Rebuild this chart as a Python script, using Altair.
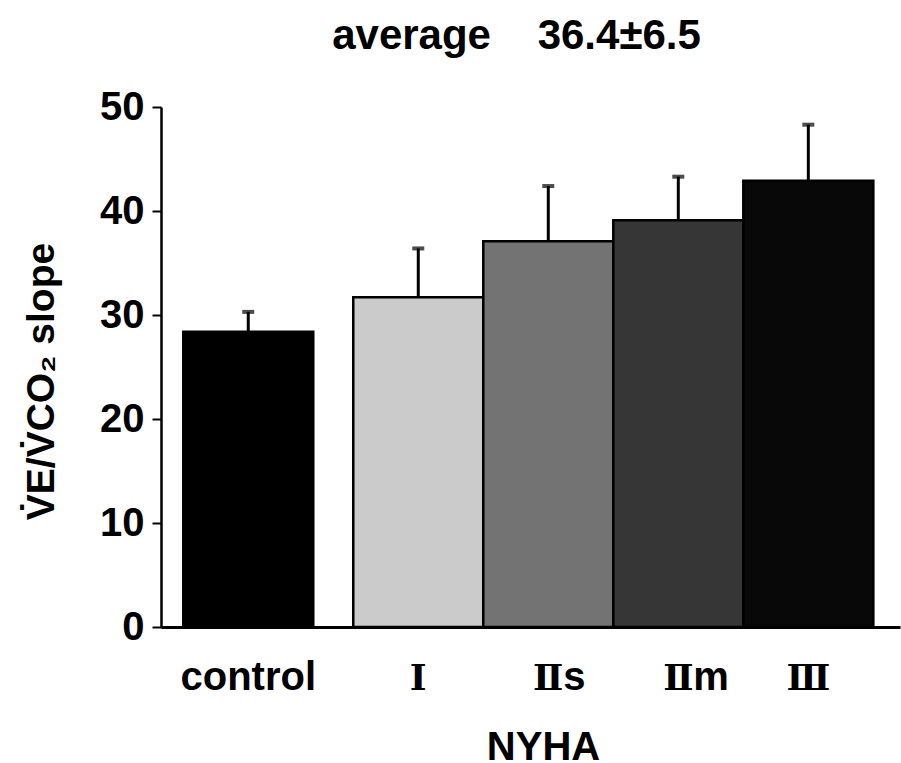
import altair as alt
import pandas as pd

# Group labels, mean slope and one SD for each NYHA class
categories = ["control", "Ⅰ", "Ⅱs", "Ⅱm", "Ⅲ"]
means = [28.4, 31.7, 37.1, 39.1, 42.9]
sds = [1.9, 4.7, 5.3, 4.2, 5.4]
fills = ["#000000", "#cbcbcb", "#737373", "#363636", "#080808"]

df = pd.DataFrame({"category": categories, "mean": means, "sd": sds, "fill": fills})

FONT = "Liberation Sans"
ROMAN_FONT = "DejaVu Serif"
W, H = 739, 520
CONTROL_SHIFT = -40  # control bar sits apart from the NYHA classes
LABEL_Y = H + 63

x_enc = alt.X(
    "category:N",
    sort=categories,
    scale=alt.Scale(paddingInner=0, paddingOuter=0.342, align=0.70),
    axis=alt.Axis(
        title="NYHA",
        labels=False,
        ticks=False,
        domainWidth=3,
        domainColor="black",
        titleFont=FONT,
        titleFontSize=40,
        titleFontWeight="bold",
        titleColor="black",
        titleX=382,
        titleY=132,
        titleBaseline="alphabetic",
    ),
)
x_pos = alt.X("category:N", sort=categories)

y_scale = alt.Scale(domain=[0, 50], nice=False)
y_axis = alt.Axis(
    values=[0, 10, 20, 30, 40, 50],
    title="V̇E/V̇CO₂ slope",
    grid=False,
    labelFont=FONT,
    labelFontSize=40,
    labelFontWeight="bold",
    labelColor="black",
    labelPadding=8,
    tickSize=9,
    tickWidth=2,
    tickColor="black",
    domainWidth=2.5,
    domainColor="black",
    titleFont=FONT,
    titleFontSize=39,
    titleFontWeight="bold",
    titleColor="black",
    titleX=-108,
    titleY=274,
    titleBaseline="alphabetic",
)


def bar_layers(filter_expr, shift):
    base = alt.Chart(df).transform_filter(filter_expr).transform_calculate(
        upper="datum.mean + datum.sd"
    )
    bars = base.mark_bar(stroke="black", strokeWidth=2.5, xOffset=shift).encode(
        x=x_enc,
        y=alt.Y("mean:Q", scale=y_scale, axis=y_axis),
        fill=alt.Fill("fill:N", scale=None),
    )
    err = base.mark_rule(color="black", strokeWidth=3, xOffset=shift).encode(
        x=x_pos, y="mean:Q", y2="upper:Q"
    )
    cap = base.mark_tick(
        color="black", orient="horizontal", size=12, thickness=4, xOffset=shift
    ).encode(x=x_pos, y="upper:Q")
    return [bars, err, cap]


text_style = dict(fontWeight="bold", color="black", baseline="alphabetic")

# "control" label, shifted with its bar
control_label = (
    alt.Chart(df)
    .transform_filter("datum.category === 'control'")
    .mark_text(font=FONT, fontSize=40, xOffset=CONTROL_SHIFT, **text_style)
    .encode(x=x_pos, y=alt.value(LABEL_Y), text="category:N")
)

# NYHA classes: roman numeral centred on the bar, letter suffix after it
nyha = (
    alt.Chart(df)
    .transform_filter("datum.category !== 'control'")
    .transform_calculate(
        numeral="substring(datum.category, 0, 1)",
        suffix="substring(datum.category, 1)",
    )
)
numeral_label = nyha.mark_text(font=ROMAN_FONT, fontSize=36, **text_style).encode(
    x=x_pos, y=alt.value(LABEL_Y), text="numeral:N"
)
suffix_label = nyha.mark_text(
    font=FONT, fontSize=40, align="left", dx=15, **text_style
).encode(x=x_pos, y=alt.value(LABEL_Y), text="suffix:N")

layers = (
    bar_layers("datum.category === 'control'", CONTROL_SHIFT)
    + bar_layers("datum.category !== 'control'", 0)
    + [control_label, numeral_label, suffix_label]
)

chart = (
    alt.layer(*layers)
    .properties(
        width=W,
        height=H,
        title=alt.TitleParams(
            "average\u00a0\u00a0\u00a0\u00a036.4±6.5",
            font=FONT,
            fontSize=42,
            fontWeight="bold",
            color="black",
            anchor="middle",
            baseline="alphabetic",
            offset=10,
            dx=-14,
            dy=14,
        ),
        autosize=alt.AutoSizeParams(type="none"),
        padding={"left": 161, "top": 107, "right": 1, "bottom": 136},
        background="white",
    )
    .configure_view(stroke=None)
)

chart.save("out.html", embed_options={"renderer": "svg", "actions": False})
